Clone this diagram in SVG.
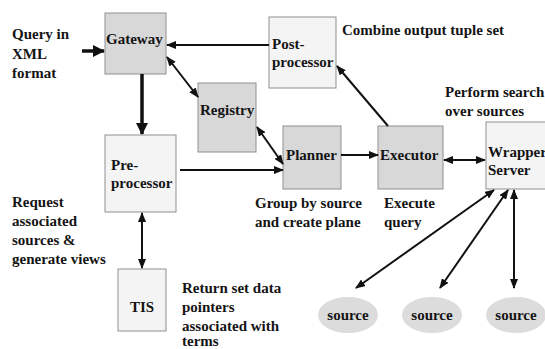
<svg xmlns="http://www.w3.org/2000/svg" width="545" height="349" viewBox="0 0 545 349">
  <style>
    .t { font-family: 'Liberation Serif', Tinos, 'DejaVu Serif', serif; font-weight: bold; font-size: 15px; fill: #141414; }
    .dark { fill: #d8d8d8; stroke: #8f8f8f; stroke-width: 1; }
    .light { fill: #f4f4f4; stroke: #8f8f8f; stroke-width: 1; }
    .src { fill: #dcdcdc; stroke: none; }
    .ln { stroke: #111; stroke-width: 2; fill: none; }
    .thick { stroke: #111; stroke-width: 3.5; fill: none; }
  </style>
  <defs>
    <marker id="ah" markerUnits="userSpaceOnUse" markerWidth="10" markerHeight="8" refX="9" refY="4" orient="auto-start-reverse">
      <path d="M0,0 L10,4 L0,8 z" fill="#111"/>
    </marker>
    <marker id="ahBig" markerUnits="userSpaceOnUse" markerWidth="12" markerHeight="12" refX="11" refY="6" orient="auto">
      <path d="M0,0 L12,6 L0,12 z" fill="#111"/>
    </marker>
  </defs>

  <rect width="545" height="349" fill="#ffffff"/>

  <!-- free-standing annotations -->
  <g id="annotations">
    <text class="t" x="12" y="39">Query in</text>
    <text class="t" x="12" y="59">XML</text>
    <text class="t" x="12" y="78">format</text>
    <text class="t" x="342" y="35">Combine output tuple set</text>
    <text class="t" x="445" y="97">Perform search</text>
    <text class="t" x="445" y="116">over sources</text>
    <text class="t" x="255" y="208">Group by source</text>
    <text class="t" x="255" y="227">and create plane</text>
    <text class="t" x="384" y="208">Execute</text>
    <text class="t" x="384" y="227">query</text>
    <text class="t" x="12" y="207">Request</text>
    <text class="t" x="12" y="226">associated</text>
    <text class="t" x="12" y="245">sources &amp;</text>
    <text class="t" x="12" y="264">generate views</text>
    <text class="t" x="182" y="293">Return set data</text>
    <text class="t" x="182" y="312">pointers</text>
    <text class="t" x="182" y="331">associated with</text>
    <text class="t" x="182" y="346">terms</text>
  </g>

  <!-- components -->
  <g id="gateway">
    <rect class="dark" x="105" y="13" width="61" height="61"/>
    <text class="t" x="106" y="44">Gateway</text>
  </g>
  <g id="post-processor">
    <rect class="light" x="269" y="17" width="67" height="71"/>
    <text class="t" x="272" y="49">Post-</text>
    <text class="t" x="272" y="67">processor</text>
  </g>
  <g id="registry">
    <rect class="dark" x="198" y="83" width="58" height="69"/>
    <text class="t" x="200" y="115">Registry</text>
  </g>
  <g id="pre-processor">
    <rect class="light" x="105" y="135" width="71" height="77"/>
    <text class="t" x="111" y="170">Pre-</text>
    <text class="t" x="111" y="188">processor</text>
  </g>
  <g id="planner">
    <rect class="dark" x="283" y="126" width="58" height="63"/>
    <text class="t" x="286" y="160">Planner</text>
  </g>
  <g id="executor">
    <rect class="dark" x="378" y="126" width="65" height="63"/>
    <text class="t" x="380" y="160">Executor</text>
  </g>
  <g id="wrapper-server">
    <rect class="light" x="486" y="122" width="70" height="67"/>
    <text class="t" x="488" y="157">Wrapper</text>
    <text class="t" x="488" y="175">Server</text>
  </g>
  <g id="tis">
    <rect class="light" x="118" y="269" width="48" height="62"/>
    <text class="t" x="142" y="312" text-anchor="middle">TIS</text>
  </g>
  <g id="source-1">
    <ellipse class="src" cx="348" cy="315" rx="30" ry="18"/>
    <text class="t" x="348" y="320" text-anchor="middle">source</text>
  </g>
  <g id="source-2">
    <ellipse class="src" cx="432" cy="315" rx="30" ry="18"/>
    <text class="t" x="432" y="320" text-anchor="middle">source</text>
  </g>
  <g id="source-3">
    <ellipse class="src" cx="516" cy="315" rx="30" ry="18"/>
    <text class="t" x="516" y="320" text-anchor="middle">source</text>
  </g>

  <!-- connectors -->
  <g id="connectors">
    <line class="thick" x1="82" y1="51" x2="104" y2="51" marker-end="url(#ahBig)"/>
    <line class="ln" x1="269" y1="45" x2="167" y2="45" marker-end="url(#ah)"/>
    <line class="thick" x1="142" y1="74" x2="142" y2="134" marker-end="url(#ahBig)"/>
    <line class="ln" x1="167" y1="57" x2="198" y2="97" marker-start="url(#ah)" marker-end="url(#ah)"/>
    <line class="ln" x1="257" y1="127" x2="283" y2="164" marker-start="url(#ah)" marker-end="url(#ah)"/>
    <line class="ln" x1="180" y1="170" x2="283" y2="170" marker-end="url(#ah)"/>
    <line class="ln" x1="341" y1="155" x2="378" y2="155" marker-end="url(#ah)"/>
    <line class="ln" x1="388" y1="126" x2="337" y2="66" marker-end="url(#ah)"/>
    <line class="ln" x1="444" y1="160" x2="485" y2="160" marker-start="url(#ah)" marker-end="url(#ah)"/>
    <line class="ln" x1="142" y1="213" x2="142" y2="268" marker-start="url(#ah)" marker-end="url(#ah)"/>
    <line class="ln" x1="494" y1="190" x2="356" y2="288" marker-start="url(#ah)" marker-end="url(#ah)"/>
    <line class="ln" x1="508" y1="190" x2="440" y2="288" marker-start="url(#ah)" marker-end="url(#ah)"/>
    <line class="ln" x1="514" y1="190" x2="514" y2="288" marker-start="url(#ah)" marker-end="url(#ah)"/>
  </g>
</svg>
